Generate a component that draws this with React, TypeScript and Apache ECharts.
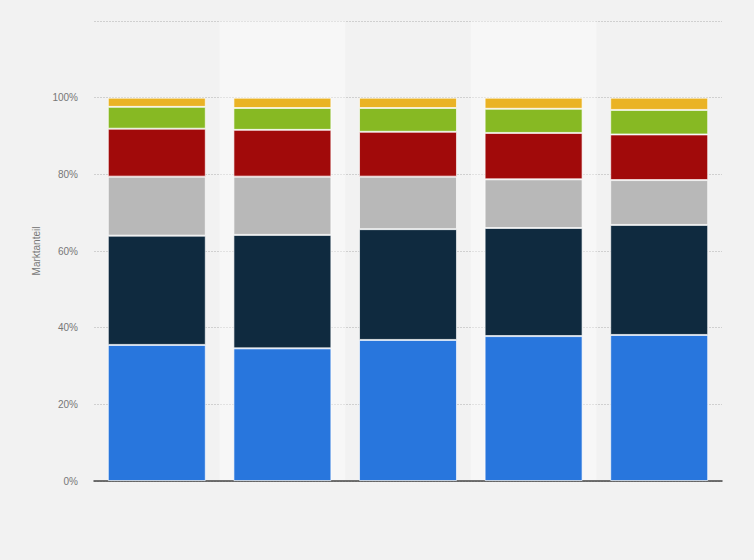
import React, { useEffect, useRef } from "react";
import * as echarts from "echarts";

const categories = ["1", "2", "3", "4", "5"];
const seriesNames = ["Segment A", "Segment B", "Segment C", "Segment D", "Segment E", "Segment F"];
const blueValues = [35.5, 34.6, 36.8, 37.8, 38.1];
const navyValues = [28.5, 29.6, 28.9, 28.2, 28.7];
const grayValues = [15.4, 15.2, 13.7, 12.7, 11.7];
const redValues = [12.5, 12.2, 11.7, 12.1, 11.9];
const greenValues = [5.7, 5.7, 6.2, 6.3, 6.4];
const yellowValues = [2.4, 2.7, 2.7, 2.9, 3.2];
const colors = ["#2876dd", "#0f2a3f", "#b8b8b8", "#a10a0a", "#87b923", "#eab325"];
const yTicks = [0, 20, 40, 60, 80, 100, 120];

export default function App() {
  const ref = useRef<HTMLDivElement>(null);
  useEffect(() => {
    document.body.style.margin = "0";
    document.body.style.background = "#f2f2f2";
    const chart = echarts.init(ref.current!, null, { renderer: "svg" });
    const data = [blueValues, navyValues, grayValues, redValues, greenValues, yellowValues];
    chart.setOption({
      animation: false,
      backgroundColor: "#f2f2f2",
      grid: { left: 94, right: 32, top: 21, bottom: 79 },
      xAxis: {
        type: "category",
        data: categories,
        axisLabel: { show: false },
        axisTick: { show: false },
        axisLine: { show: true, lineStyle: { color: "#444", width: 1.5 } },
        splitArea: {
          show: true,
          areaStyle: { color: ["rgba(0,0,0,0)", "rgba(255,255,255,0.38)"] },
        },
      },
      yAxis: {
        type: "value",
        min: yTicks[0],
        max: yTicks[yTicks.length - 1],
        interval: 20,
        name: "Marktanteil",
        nameLocation: "middle",
        nameGap: 50,
        nameTextStyle: { color: "#777", fontSize: 10, fontFamily: "Liberation Sans, Arial, sans-serif" },
        axisLine: { show: false },
        axisTick: { show: false },
        axisLabel: {
          color: "#777",
          fontSize: 10,
          fontFamily: "Liberation Sans, Arial, sans-serif",
          margin: 16,
          formatter: (v: number) => (v > 100 ? "" : v + "%"),
        },
        splitLine: { show: true, lineStyle: { color: "#d0d0d0", type: [2, 1], width: 1 } },
      },
      series: data.map((vals, i) => ({
        name: seriesNames[i],
        type: "bar",
        stack: "total",
        data: vals,
        barCategoryGap: "22%",
        itemStyle: {
          color: colors[i],
          borderColor: "rgba(255,255,255,0.65)",
          borderWidth: 1,
        },
      })),
    });
    return () => chart.dispose();
  }, []);
  return (
    <div
      ref={ref}
      style={{ position: "absolute", left: 0, top: 0, width: 754, height: 560 }}
    />
  );
}
